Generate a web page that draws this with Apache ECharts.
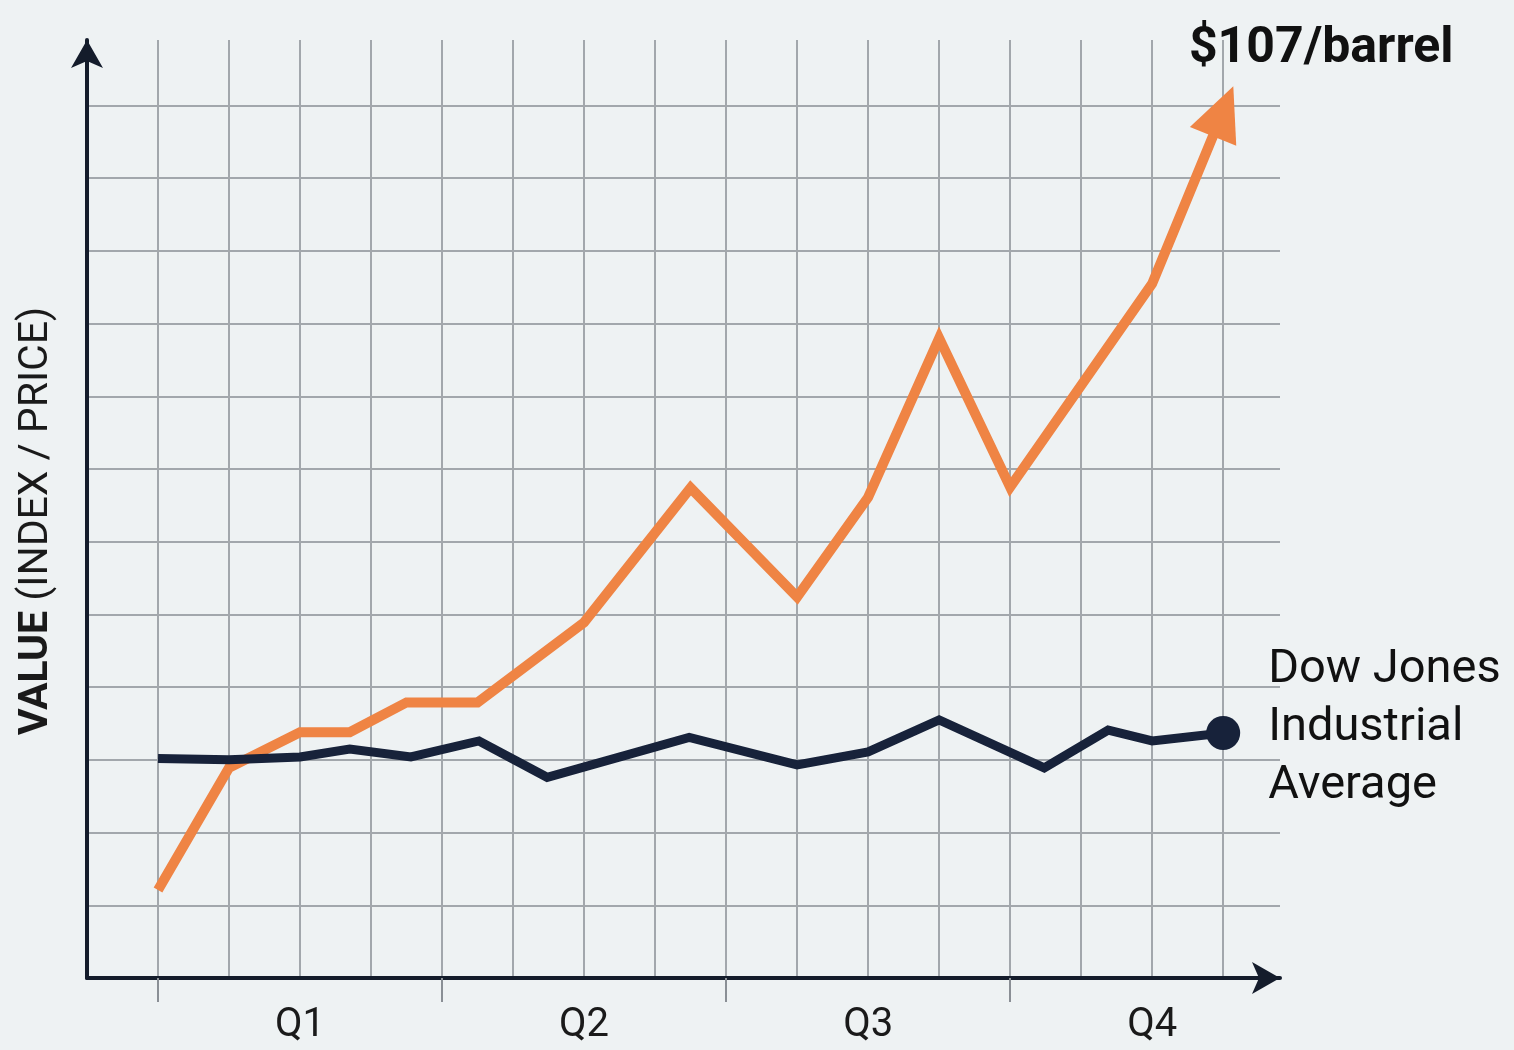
<!DOCTYPE html>
<html>
<head>
<meta charset="utf-8">
<title>Oil vs Dow Jones</title>
<script src="https://cdn.jsdelivr.net/npm/echarts@6/dist/echarts.min.js"></script>
<style>
  html, body { margin: 0; padding: 0; background: #eef2f3; }
  #chart { width: 1514px; height: 1050px; }
</style>
</head>
<body>
<div id="chart"></div>
<script>
// 数据：x 为时间刻度（每格一个单位），y 为相对数值
const oilX = [0, 1, 2, 2.7, 3.5, 4.5, 6, 7.5, 9, 10, 11, 12, 14, 15];
const oilY = [1.21, 2.89, 3.38, 3.38, 3.79, 3.79, 4.89, 6.74, 5.24, 6.61, 8.8, 6.75, 9.55, 11.92];

const dowX = [0, 1, 2, 2.7, 3.56, 4.52, 5.48, 7.48, 9, 10, 11, 12.48, 13.38, 14, 15];
const dowY = [3.02, 3.0, 3.04, 3.15, 3.04, 3.26, 2.76, 3.31, 2.93, 3.11, 3.55, 2.89, 3.41, 3.26, 3.37];

const quarterLabels = ['Q1', 'Q2', 'Q3', 'Q4'];
const quarterCenters = [2, 6, 10, 14];
const quarterTicks = [0, 4, 8, 12];

const oilLabel = '$107/barrel';
const dowLabel = 'Dow Jones\nIndustrial\nAverage';

const ORANGE = '#ef8444';
const NAVY = '#17223a';
const AXIS = '#141c2b';
const GRID = '#a2a7ac';
const FONT = 'Roboto';

const chart = echarts.init(document.getElementById('chart'));

// 油价数据，最后一点画成箭头并带标签
const oilData = oilX.map((x, i) => {
    const item = { value: [x, oilY[i]] };
    if (i === oilX.length - 1) {
        item.symbol = 'triangle';
        item.symbolSize = [50, 54];
        item.symbolRotate = -22;
        item.itemStyle = { color: ORANGE };
        item.label = {
            show: true,
            formatter: oilLabel,
            position: 'top',
            offset: [98, 3],
            color: '#111',
            fontFamily: FONT,
            fontWeight: 'bold',
            fontSize: 50
        };
    }
    return item;
});

// 道琼斯数据，最后一点画圆点并带标签
const dowData = dowX.map((x, i) => {
    const item = { value: [x, dowY[i]] };
    if (i === dowX.length - 1) {
        item.symbol = 'circle';
        item.symbolSize = 34;
        item.itemStyle = { color: NAVY };
        item.label = {
            show: true,
            formatter: dowLabel,
            position: 'right',
            distance: 28,
            offset: [0, -5],
            color: '#111',
            fontFamily: FONT,
            fontSize: 47,
            lineHeight: 58,
            align: 'left'
        };
    }
    return item;
});

const option = {
    backgroundColor: '#eef2f3',
    animation: false,
    grid: { left: 87, right: 234, top: 40, bottom: 72 },
    xAxis: [
        {
            type: 'value',
            min: -1,
            max: 15.8,
            interval: 1,
            axisLine: {
                show: true,
                symbol: ['none', 'arrow'],
                symbolSize: [24, 28],
                lineStyle: { color: AXIS, width: 4 }
            },
            axisTick: { show: false },
            axisLabel: { show: false },
            splitLine: {
                show: true,
                showMinLine: false,
                showMaxLine: false,
                lineStyle: { color: GRID, width: 2 }
            }
        },
        {
            type: 'value',
            min: -1,
            max: 15.8,
            position: 'bottom',
            axisLine: { show: false },
            axisTick: {
                show: true,
                customValues: quarterTicks,
                length: 24,
                lineStyle: { color: '#8a8f95', width: 2 }
            },
            axisLabel: {
                show: true,
                customValues: quarterCenters,
                formatter: v => quarterLabels[quarterCenters.indexOf(v)] || '',
                margin: 28,
                color: '#1a1a1a',
                fontFamily: FONT,
                fontSize: 40
            },
            splitLine: { show: false }
        }
    ],
    yAxis: {
        type: 'value',
        min: 0,
        max: 12.9,
        interval: 1,
        name: '{b|VALUE}{r| (INDEX / PRICE)}',
        nameLocation: 'middle',
        nameGap: 30,
        nameTextStyle: {
            padding: [0, 24, 0, 0],
            rich: {
                b: { fontFamily: FONT, fontWeight: 'bold', fontSize: 41, color: '#1a1a1a' },
                r: { fontFamily: FONT, fontSize: 41, color: '#1a1a1a' }
            }
        },
        axisLine: {
            show: true,
            onZero: false,
            symbol: ['none', 'arrow'],
            symbolSize: [24, 28],
            lineStyle: { color: AXIS, width: 4 }
        },
        axisTick: { show: false },
        axisLabel: { show: false },
        splitLine: {
            show: true,
            showMinLine: false,
            showMaxLine: false,
            lineStyle: { color: GRID, width: 2 }
        }
    },
    series: [
        {
            name: 'Oil',
            type: 'line',
            data: oilData,
            symbol: 'none',
            showSymbol: true,
            lineStyle: { color: ORANGE, width: 10, join: 'miter', cap: 'butt' },
            itemStyle: { color: ORANGE },
            z: 3
        },
        {
            name: 'Dow Jones Industrial Average',
            type: 'line',
            data: dowData,
            symbol: 'none',
            showSymbol: true,
            lineStyle: { color: NAVY, width: 9, join: 'miter' },
            itemStyle: { color: NAVY },
            z: 4
        }
    ]
};

chart.setOption(option);
</script>
</body>
</html>
